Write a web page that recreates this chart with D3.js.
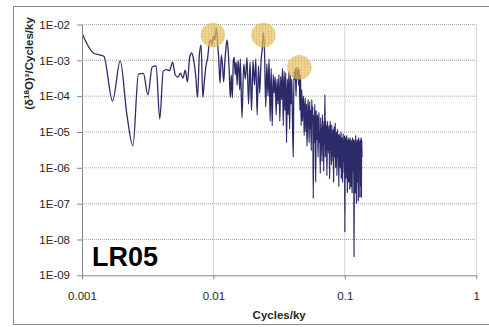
<!DOCTYPE html>
<html>
<head>
<meta charset="utf-8">
<script src="https://cdn.jsdelivr.net/npm/d3@7"></script>
<style>
  body { margin: 0; background: #fff; }
  svg { display: block; font-family: "Liberation Sans", Arial, sans-serif; }
</style>
</head>
<body>
<svg id="chart" width="489" height="327"></svg>
<script>
// low frequency part of the spectrum, one point per 1/4096 cycles/ky
var lowFreq = [
  0.000977, 0.001221, 0.001465, 0.001709, 0.001953, 0.002197, 0.002441, 0.002686, 0.002930, 0.003174,
  0.003418, 0.003662, 0.003906, 0.004150, 0.004395, 0.004639, 0.004883, 0.005127, 0.005371, 0.005615,
  0.005859, 0.006104, 0.006348, 0.006592, 0.006836, 0.007080, 0.007324, 0.007568, 0.007813, 0.008057,
  0.008301, 0.008545, 0.008789, 0.009033, 0.009277, 0.009521, 0.009766, 0.010010, 0.010254, 0.010498,
  0.010742, 0.010986, 0.011230, 0.011475, 0.011719, 0.011963, 0.012207, 0.012451, 0.012695, 0.012939,
  0.013184, 0.013428, 0.013672, 0.013916, 0.014160, 0.014404, 0.014648, 0.014893, 0.015137, 0.015381,
  0.015625, 0.015869
];
var lowPower = [
  7e-3, 1.6e-3, 1.3e-3, 7.3e-5, 9.6e-4, 3e-5, 4.1e-6, 4.1e-4, 4.3e-4, 1.1e-4,
  6.5e-4, 7e-4, 2.3e-5, 5e-4, 5.5e-4, 5.2e-4, 8.9e-4, 3.9e-4, 3.4e-4, 4.4e-4,
  3.2e-4, 5.3e-4, 2.5e-4, 1.2e-3, 1.6e-3, 1.0e-3, 3.9e-4, 9.3e-5, 1.4e-3, 2.7e-3,
  9.3e-5, 2.8e-4, 7.4e-4, 1.15e-3, 2.9e-3, 3.7e-3, 2.7e-3, 4.8e-3, 3.7e-3, 8e-3,
  3.3e-3, 1.0e-3, 2.3e-4, 1.4e-3, 7.4e-4, 2.5e-4, 8.9e-4, 2.2e-3, 3.7e-3, 1.9e-3,
  5.3e-4, 9.3e-5, 3.9e-4, 8.9e-5, 8.9e-4, 1.2e-3, 3.9e-4, 8.9e-4, 2.0e-4, 1.0e-3,
  4.7e-4, 1.5e-4
];

// dense part of the spectrum
var highFreq = [
  0.0160, 0.0165, 0.0170, 0.0175, 0.0180, 0.0185, 0.0190, 0.0195, 0.0200, 0.0205,
  0.0210, 0.0215, 0.0220, 0.0225, 0.0230, 0.0235, 0.0240, 0.0245, 0.0250, 0.0255,
  0.0260, 0.0265, 0.0270, 0.0275, 0.0280, 0.0285, 0.0290, 0.0295, 0.0300, 0.0305,
  0.0310, 0.0315, 0.0320, 0.0325, 0.0330, 0.0335, 0.0340, 0.0345, 0.0350, 0.0355,
  0.0360, 0.0365, 0.0370, 0.0375, 0.0380, 0.0385, 0.0390, 0.0395, 0.0400, 0.0405,
  0.0410, 0.0415, 0.0420, 0.0425, 0.0430, 0.0435, 0.0440, 0.0445, 0.0450, 0.0455,
  0.0460, 0.0465, 0.0470, 0.0475, 0.0480, 0.0485, 0.0490, 0.0495, 0.0500, 0.0505,
  0.0510, 0.0515, 0.0520, 0.0525, 0.0530, 0.0535, 0.0540, 0.0545, 0.0550, 0.0555,
  0.0560, 0.0565, 0.0570, 0.0575, 0.0580, 0.0585, 0.0590, 0.0595, 0.0600, 0.0605,
  0.0610, 0.0615, 0.0620, 0.0625, 0.0630, 0.0635, 0.0640, 0.0645, 0.0650, 0.0655,
  0.0660, 0.0665, 0.0670, 0.0675, 0.0680, 0.0685, 0.0690, 0.0695, 0.0700, 0.0705,
  0.0710, 0.0715, 0.0720, 0.0725, 0.0730, 0.0735, 0.0740, 0.0745, 0.0750, 0.0755,
  0.0760, 0.0765, 0.0770, 0.0775, 0.0780, 0.0785, 0.0790, 0.0795, 0.0800, 0.0805,
  0.0810, 0.0815, 0.0820, 0.0825, 0.0830, 0.0835, 0.0840, 0.0845, 0.0850, 0.0855,
  0.0860, 0.0865, 0.0870, 0.0875, 0.0880, 0.0885, 0.0890, 0.0895, 0.0900, 0.0905,
  0.0910, 0.0915, 0.0920, 0.0925, 0.0930, 0.0935, 0.0940, 0.0945, 0.0950, 0.0955,
  0.0960, 0.0965, 0.0970, 0.0975, 0.0980, 0.0985, 0.0990, 0.0995, 0.1000, 0.1005,
  0.1010, 0.1015, 0.1020, 0.1025, 0.1030, 0.1035, 0.1040, 0.1045, 0.1050, 0.1055,
  0.1060, 0.1065, 0.1070, 0.1075, 0.1080, 0.1085, 0.1090, 0.1095, 0.1100, 0.1105,
  0.1110, 0.1115, 0.1120, 0.1125, 0.1130, 0.1135, 0.1140, 0.1145, 0.1150, 0.1155,
  0.1160, 0.1165, 0.1170, 0.1175, 0.1180, 0.1185, 0.1190, 0.1195, 0.1200, 0.1205,
  0.1210, 0.1215, 0.1220, 0.1225, 0.1230, 0.1235, 0.1240, 0.1245, 0.1250, 0.1255,
  0.1260, 0.1265, 0.1270, 0.1275, 0.1280, 0.1285, 0.1290, 0.1295, 0.1300, 0.1305,
  0.1310, 0.1315, 0.1320, 0.1325, 0.1330, 0.1335, 0.1340, 0.1345, 0.1350
];
var highPower = [
  1.1e-3, 2.5e-5, 8e-4, 3e-4, 1.2e-3, 6e-5, 9e-4, 4e-5, 1.0e-3, 2e-4,
  1.1e-3, 3e-5, 7e-4, 1.2e-4, 9e-4, 2e-3, 6e-3, 1.5e-3, 5e-5, 8e-4,
  1e-4, 1.1e-3, 2e-5, 6e-4, 1.5e-5, 4e-4, 1.2e-4, 3.5e-4, 3e-5, 3e-4,
  6e-5, 4e-4, 2e-5, 3.5e-4, 8e-5, 6e-4, 1.5e-5, 5e-4, 4e-5, 4.5e-4,
  5e-6, 3e-4, 3e-5, 5e-4, 1.2e-5, 4e-4, 6e-5, 3e-4, 1.5e-5, 2e-6,
  5e-4, 3e-4, 6e-4, 1e-4, 6.5e-4, 3e-4, 6.3e-4, 2e-4, 5.5e-4, 4e-5,
  4e-4, 1.5e-5, 1.5e-4, 2e-5, 6e-5, 1e-4, 8e-6, 3e-5, 9e-5, 1e-5,
  6e-5, 4e-6, 2e-5, 8e-5, 3e-5, 5e-6, 7e-5, 1.2e-5, 4e-5, 3e-6,
  8e-5, 2e-5, 5e-5, 1.4e-7, 3e-5, 5e-6, 6e-5, 1e-5, 4e-7, 4e-5,
  6e-6, 2e-5, 3e-5, 2e-6, 1.5e-5, 3.5e-5, 5e-6, 1e-5, 7e-7, 2.5e-5,
  4e-6, 1.2e-5, 1.5e-6, 3e-5, 8e-6, 1.5e-5, 8e-7, 2e-5, 5e-6, 1.1e-4,
  2e-6, 2e-5, 9e-6, 1.5e-5, 6e-7, 8e-6, 2e-5, 3e-6, 1.2e-5, 2.5e-6,
  1.5e-5, 5e-7, 1e-5, 2e-5, 3e-6, 6e-6, 1.2e-6, 1.6e-5, 4e-6, 9e-6,
  1.5e-6, 1.2e-5, 4e-7, 5e-6, 1.4e-5, 2e-6, 7e-6, 1.8e-5, 1e-6, 6e-6,
  3e-6, 1e-5, 6e-7, 4e-6, 1.2e-5, 2e-6, 8e-6, 5e-6, 3e-7, 9e-6,
  2.5e-6, 5e-6, 1e-6, 8e-6, 3e-6, 1e-5, 5e-7, 6e-6, 2e-6, 7e-6,
  4e-7, 4e-6, 9e-6, 1.5e-6, 6e-6, 3e-6, 7e-7, 8e-6, 1.6e-8, 5e-6,
  1.5e-6, 7e-6, 5e-7, 3e-6, 8e-6, 1e-6, 5e-6, 2e-7, 6e-6, 2e-6,
  7e-6, 4e-7, 3e-6, 6e-6, 1.2e-6, 4e-6, 2.5e-7, 7e-6, 1e-6, 5e-6,
  3e-7, 4e-6, 6e-6, 1.5e-6, 5e-6, 2e-7, 3e-6, 7e-6, 8e-7, 4e-6,
  1.5e-6, 6e-6, 4e-7, 3.2e-9, 5e-6, 1e-6, 3e-6, 6e-6, 2e-7, 4e-6,
  8e-6, 1.2e-6, 3e-6, 1e-7, 5e-6, 2e-6, 6e-6, 4e-7, 4e-6, 1.5e-6,
  6e-6, 1.2e-7, 3e-6, 7e-6, 8e-7, 5e-6, 2e-6, 4e-6, 1.5e-7, 6e-6,
  1e-6, 5e-6, 3e-7, 4e-6, 7e-6, 1.5e-7, 3e-6, 6e-6, 2e-6
];

// highlighted orbital peaks (100, 41, 23 ky)
var peakFreq = [0.0099, 0.024, 0.045];
var peakPower = [5.1e-3, 5.1e-3, 6.4e-4];

var xTicks = [0.001, 0.01, 0.1, 1];
var xTickLabels = ["0.001", "0.01", "0.1", "1"];
var yTicks = [1e-9, 1e-8, 1e-7, 1e-6, 1e-5, 1e-4, 1e-3, 1e-2];
var yTickLabels = ["1E-09", "1E-08", "1E-07", "1E-06", "1E-05", "1E-04", "1E-03", "1E-02"];

var margin = {top: 24.5, right: 12.7, bottom: 51.7, left: 82},
    width = 489 - margin.left - margin.right,
    height = 327 - margin.top - margin.bottom;

var svg = d3.select("#chart");

// outer chart border (right edge runs off the picture)
svg.append("rect")
    .attr("x", 13.5).attr("y", 6.5)
    .attr("width", 490).attr("height", 318)
    .attr("fill", "#fff")
    .attr("stroke", "#8a8a8a");

var x = d3.scaleLog().domain([0.001, 1]).range([0, width]);
var y = d3.scaleLog().domain([1e-9, 1e-2]).range([height, 0]);

var defs = svg.append("defs");
defs.append("clipPath").attr("id", "plot-clip")
  .append("rect").attr("width", width).attr("height", height);

var pat = defs.append("pattern")
    .attr("id", "hatch")
    .attr("patternUnits", "userSpaceOnUse")
    .attr("width", 3).attr("height", 3);
pat.append("rect").attr("width", 3).attr("height", 3).attr("fill", "#ecc96a");
pat.append("path").attr("d", "M0,0.5H3M0.5,0V3")
    .attr("stroke", "#d2a540").attr("stroke-width", 0.6);

var g = svg.append("g")
    .attr("transform", "translate(" + margin.left + "," + margin.top + ")");

// gridlines
g.append("g").selectAll("line")
    .data(yTicks.slice(1))
  .enter().append("line")
    .attr("x1", 0).attr("x2", width)
    .attr("y1", function(d) { return y(d); })
    .attr("y2", function(d) { return y(d); })
    .attr("stroke", "#a8a8a8")
    .attr("stroke-dasharray", "1,1");

g.append("g").selectAll("line")
    .data(xTicks.slice(1))
  .enter().append("line")
    .attr("x1", function(d) { return x(d); })
    .attr("x2", function(d) { return x(d); })
    .attr("y1", 0).attr("y2", height)
    .attr("stroke", "#a8a8a8")
    .attr("stroke-dasharray", "1,1");

// spectrum
var pts = [];
lowFreq.forEach(function(f, i) { pts.push([f, lowPower[i]]); });
highFreq.forEach(function(f, i) { pts.push([f, highPower[i]]); });

var line = d3.line()
    .x(function(d) { return x(d[0]); })
    .y(function(d) { return y(d[1]); })
    .curve(d3.curveMonotoneX);

g.append("path")
    .datum(pts)
    .attr("clip-path", "url(#plot-clip)")
    .attr("fill", "none")
    .attr("stroke", "#2d2a69")
    .attr("stroke-width", 1.3)
    .attr("stroke-linejoin", "round")
    .attr("d", line);

// peak markers
g.append("g").selectAll("circle")
    .data(peakFreq)
  .enter().append("circle")
    .attr("cx", function(d) { return x(d); })
    .attr("cy", function(d, i) { return y(peakPower[i]); })
    .attr("r", 12.3)
    .attr("fill", "url(#hatch)")
    .attr("opacity", 0.72);

// axes
var yAxis = g.append("g")
    .call(d3.axisLeft(y)
      .tickValues(yTicks)
      .tickFormat(function(d, i) { return yTickLabels[i]; })
      .tickSizeInner(5).tickSizeOuter(0).tickPadding(7));

var xAxis = g.append("g")
    .attr("transform", "translate(0," + height + ")")
    .call(d3.axisBottom(x)
      .tickValues(xTicks)
      .tickFormat(function(d, i) { return xTickLabels[i]; })
      .tickSizeInner(4).tickSizeOuter(0).tickPadding(13));

[yAxis, xAxis].forEach(function(a) {
  a.select(".domain").attr("stroke", "#868686");
  a.selectAll(".tick line").attr("stroke", "#868686");
  a.selectAll(".tick text")
      .attr("fill", "#262626")
      .style("font-size", "11.5px")
      .style("font-family", "'Liberation Sans', Arial, sans-serif");
});

// axis titles
svg.append("text")
    .attr("x", margin.left + width / 2)
    .attr("y", 319)
    .attr("text-anchor", "middle")
    .attr("fill", "#262626")
    .style("font-size", "11.5px")
    .style("font-weight", "bold")
    .text("Cycles/ky");

var yt = svg.append("text")
    .attr("transform", "translate(33,63.5) rotate(-90)")
    .attr("text-anchor", "middle")
    .attr("fill", "#262626")
    .style("font-size", "11.5px")
    .style("font-weight", "bold");
yt.append("tspan").text("(δ");
yt.append("tspan").attr("dy", -4).style("font-size", "8px").text("18");
yt.append("tspan").attr("dy", 4).text("O)²/Cycles/ky");

svg.append("text")
    .attr("x", 92)
    .attr("y", 266)
    .attr("fill", "#000")
    .style("font-size", "27px")
    .style("font-weight", "bold")
    .text("LR05");
</script>
</body>
</html>
